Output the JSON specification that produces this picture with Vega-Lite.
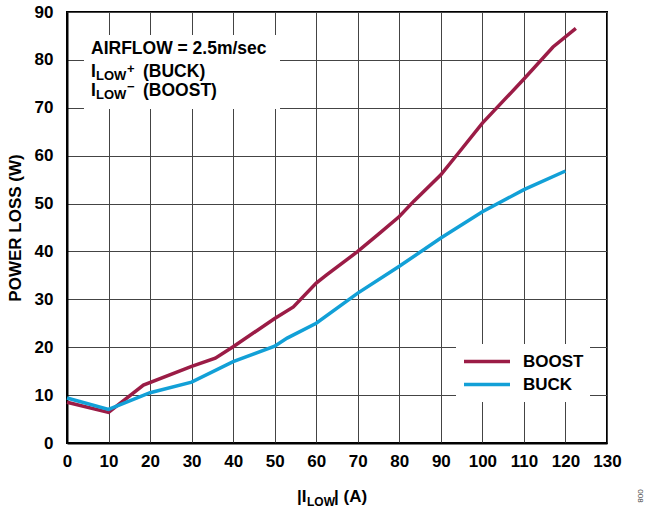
{
  "$schema": "https://vega.github.io/schema/vega-lite/v6.json",
  "width": 540,
  "height": 431,
  "autosize": {"type": "none"},
  "padding": {"left": 67, "top": 12, "right": 40, "bottom": 65},
  "background": "white",
  "config": {
    "font": "Liberation Sans",
    "view": {"stroke": "black", "strokeWidth": 2},
    "axis": {
      "grid": true, "gridColor": "#444", "gridWidth": 1, "gridOpacity": 1,
      "ticks": false, "domain": true, "domainColor": "black", "domainWidth": 2,
      "labelFont": "Liberation Sans", "labelFontSize": 17, "labelFontWeight": "bold", "labelColor": "black",
      "titleFont": "Liberation Sans", "titleFontWeight": "bold", "titleColor": "black", "titleFontSize": 17,
      "labelFlush": false
    }
  },
  "layer": [
    {
      "data": {"values": [{}]},
      "mark": {"type": "rect", "fill": "white"},
      "encoding": {
        "x": {"datum": 4.09, "type": "quantitative"},
        "x2": {"datum": 51.28},
        "y": {"datum": 85.2, "type": "quantitative"},
        "y2": {"datum": 69.74}
      }
    },
    {
      "data": {"values": [
        {"series": "BOOST", "I": 0, "P": 8.5},
        {"series": "BOOST", "I": 10, "P": 6.4},
        {"series": "BOOST", "I": 18.4, "P": 12.1},
        {"series": "BOOST", "I": 30, "P": 16.0},
        {"series": "BOOST", "I": 35.7, "P": 17.7},
        {"series": "BOOST", "I": 40, "P": 20.1},
        {"series": "BOOST", "I": 50, "P": 26.0},
        {"series": "BOOST", "I": 54.5, "P": 28.4},
        {"series": "BOOST", "I": 60, "P": 33.4},
        {"series": "BOOST", "I": 62.5, "P": 35.1},
        {"series": "BOOST", "I": 70, "P": 40.0},
        {"series": "BOOST", "I": 75, "P": 43.6},
        {"series": "BOOST", "I": 80, "P": 47.3},
        {"series": "BOOST", "I": 83.5, "P": 50.5},
        {"series": "BOOST", "I": 90, "P": 56.0},
        {"series": "BOOST", "I": 94, "P": 60.3},
        {"series": "BOOST", "I": 100, "P": 66.8},
        {"series": "BOOST", "I": 110, "P": 76.0},
        {"series": "BOOST", "I": 117, "P": 82.7},
        {"series": "BOOST", "I": 122.5, "P": 86.6},
        {"series": "BUCK", "I": 0, "P": 9.4},
        {"series": "BUCK", "I": 10, "P": 7.0},
        {"series": "BUCK", "I": 20, "P": 10.5},
        {"series": "BUCK", "I": 30, "P": 12.7},
        {"series": "BUCK", "I": 40, "P": 17.0},
        {"series": "BUCK", "I": 50, "P": 20.2},
        {"series": "BUCK", "I": 53, "P": 21.9},
        {"series": "BUCK", "I": 60, "P": 25.0},
        {"series": "BUCK", "I": 70, "P": 31.3},
        {"series": "BUCK", "I": 80, "P": 36.9},
        {"series": "BUCK", "I": 90, "P": 42.8},
        {"series": "BUCK", "I": 100, "P": 48.3},
        {"series": "BUCK", "I": 110, "P": 52.9},
        {"series": "BUCK", "I": 120, "P": 56.8}
      ]},
      "mark": {"type": "line", "strokeWidth": 3.5},
      "encoding": {
        "x": {"field": "I", "type": "quantitative",
              "scale": {"domain": [0, 130], "nice": false},
              "axis": {"title": null, "values": [0,10,20,30,40,50,60,70,80,90,100,110,120,130], "labelPadding": 10}},
        "y": {"field": "P", "type": "quantitative",
              "scale": {"domain": [0, 90], "nice": false},
              "axis": {"title": "POWER LOSS (W)", "values": [0,10,20,30,40,50,60,70,80,90], "labelPadding": 14, "titlePadding": 10}},
        "color": {"field": "series", "type": "nominal",
                  "scale": {"domain": ["BOOST", "BUCK"], "range": ["#9b1c46", "#12a0d7"]},
                  "legend": {"orient": "none", "legendX": 389, "legendY": 332, "title": null,
                             "symbolType": "stroke", "symbolSize": 2116, "symbolStrokeWidth": 3.5,
                             "labelFontSize": 17, "labelFontWeight": "bold", "labelColor": "black",
                             "labelFont": "Liberation Sans",
                             "labelOffset": 11, "clipHeight": 23, "rowPadding": 0, "padding": 6,
                             "fillColor": "white"}}
      }
    },
    {
      "data": {"values": [{}]},
      "mark": {"type": "text", "text": "AIRFLOW = 2.5m/sec", "align": "left", "baseline": "alphabetic", "fontSize": 17.5, "fontWeight": "bold", "color": "black"},
      "encoding": {"x": {"datum": 5.78, "type": "quantitative"}, "y": {"datum": 81.23, "type": "quantitative"}}
    },
    {
      "data": {"values": [{}]},
      "mark": {"type": "text", "text": "I", "align": "left", "baseline": "alphabetic", "fontSize": 17.5, "fontWeight": "bold", "color": "black"},
      "encoding": {"x": {"datum": 5.78, "type": "quantitative"}, "y": {"datum": 76.49, "type": "quantitative"}}
    },
    {
      "data": {"values": [{}]},
      "mark": {"type": "text", "text": "LOW", "align": "left", "baseline": "alphabetic", "fontSize": 13, "fontWeight": "bold", "color": "black"},
      "encoding": {"x": {"datum": 6.98, "type": "quantitative"}, "y": {"datum": 75.7, "type": "quantitative"}}
    },
    {
      "data": {"values": [{}]},
      "mark": {"type": "text", "text": "+", "align": "left", "baseline": "alphabetic", "fontSize": 13, "fontWeight": "bold", "color": "black"},
      "encoding": {"x": {"datum": 14.44, "type": "quantitative"}, "y": {"datum": 77.3, "type": "quantitative"}}
    },
    {
      "data": {"values": [{}]},
      "mark": {"type": "text", "text": "(BUCK)", "align": "left", "baseline": "alphabetic", "fontSize": 17.5, "fontWeight": "bold", "color": "black"},
      "encoding": {"x": {"datum": 18.3, "type": "quantitative"}, "y": {"datum": 76.49, "type": "quantitative"}}
    },
    {
      "data": {"values": [{}]},
      "mark": {"type": "text", "text": "I", "align": "left", "baseline": "alphabetic", "fontSize": 17.5, "fontWeight": "bold", "color": "black"},
      "encoding": {"x": {"datum": 5.78, "type": "quantitative"}, "y": {"datum": 72.52, "type": "quantitative"}}
    },
    {
      "data": {"values": [{}]},
      "mark": {"type": "text", "text": "LOW", "align": "left", "baseline": "alphabetic", "fontSize": 13, "fontWeight": "bold", "color": "black"},
      "encoding": {"x": {"datum": 6.98, "type": "quantitative"}, "y": {"datum": 71.73, "type": "quantitative"}}
    },
    {
      "data": {"values": [{}]},
      "mark": {"type": "text", "text": "−", "align": "left", "baseline": "alphabetic", "fontSize": 13, "fontWeight": "bold", "color": "black"},
      "encoding": {"x": {"datum": 14.44, "type": "quantitative"}, "y": {"datum": 73.4, "type": "quantitative"}}
    },
    {
      "data": {"values": [{}]},
      "mark": {"type": "text", "text": "(BOOST)", "align": "left", "baseline": "alphabetic", "fontSize": 17.5, "fontWeight": "bold", "color": "black"},
      "encoding": {"x": {"datum": 18.3, "type": "quantitative"}, "y": {"datum": 72.52, "type": "quantitative"}}
    },
    {
      "data": {"values": [{}]},
      "mark": {"type": "text", "text": "|I", "align": "left", "baseline": "alphabetic", "fontSize": 17, "fontWeight": "bold", "color": "black"},
      "encoding": {"x": {"datum": 55.37, "type": "quantitative"}, "y": {"datum": -12.32, "type": "quantitative"}}
    },
    {
      "data": {"values": [{}]},
      "mark": {"type": "text", "text": "LOW", "align": "left", "baseline": "alphabetic", "fontSize": 12, "fontWeight": "bold", "color": "black"},
      "encoding": {"x": {"datum": 57.78, "type": "quantitative"}, "y": {"datum": -13.15, "type": "quantitative"}}
    },
    {
      "data": {"values": [{}]},
      "mark": {"type": "text", "text": "| (A)", "align": "left", "baseline": "alphabetic", "fontSize": 17, "fontWeight": "bold", "color": "black"},
      "encoding": {"x": {"datum": 64.28, "type": "quantitative"}, "y": {"datum": -12.32, "type": "quantitative"}}
    },
    {
      "data": {"values": [{}]},
      "mark": {"type": "text", "text": "008", "align": "center", "baseline": "middle", "angle": 90, "fontSize": 8, "color": "#444"},
      "encoding": {"x": {"datum": 138.0, "type": "quantitative"}, "y": {"datum": -11.07, "type": "quantitative"}}
    }
  ]
}
